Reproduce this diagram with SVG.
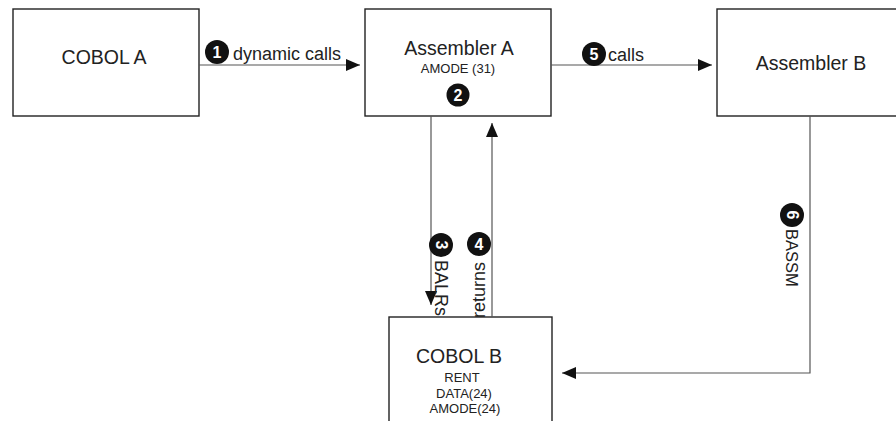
<svg xmlns="http://www.w3.org/2000/svg" width="896" height="421" viewBox="0 0 896 421">
<defs>
<marker id="arr" viewBox="0 0 14 12" refX="14" refY="6" markerWidth="14" markerHeight="12" markerUnits="userSpaceOnUse" orient="auto">
<path d="M0,0 L14,6 L0,12 Z" fill="#111"/>
</marker>
</defs>
<style>
.box{fill:#fff;stroke:#222;stroke-width:1.4}
.t{font-family:"Liberation Sans",Arial,sans-serif;fill:#222;text-anchor:middle}
.big{font-size:19.5px}
.sm{font-size:13px}
.lbl{font-family:"Liberation Sans",Arial,sans-serif;fill:#222;font-size:18px}
.ln{fill:none;stroke:#555;stroke-width:1.2}
.num{fill:#111}
.nt{font-family:"Liberation Sans",Arial,sans-serif;font-weight:bold;fill:#fff;font-size:16px;text-anchor:middle}
</style>
<rect width="896" height="421" fill="#fff"/>
<g id="cobolA">
<rect class="box" x="13" y="9" width="186" height="107"/>
<text class="t big" x="104" y="64">COBOL A</text>
</g>
<g id="asmA">
<rect class="box" x="365" y="9" width="186" height="107"/>
<text class="t big" x="459" y="55">Assembler A</text>
<text class="t sm" x="458" y="73">AMODE (31)</text>
<circle class="num" cx="458" cy="95" r="11.5"/>
<text class="nt" x="458" y="100.5">2</text>
</g>
<g id="asmB">
<rect class="box" x="717" y="9" width="190" height="107"/>
<text class="t big" x="811" y="70">Assembler B</text>
</g>
<g id="cobolB">
<rect class="box" x="389" y="317" width="163" height="120"/>
<text class="t big" x="459" y="363">COBOL B</text>
<text class="t sm" x="462" y="382">RENT</text>
<text class="t sm" x="464" y="398">DATA(24)</text>
<text class="t sm" x="465" y="413">AMODE(24)</text>
</g>
<g id="connectors">
<line class="ln" x1="199" y1="65" x2="360" y2="65" marker-end="url(#arr)"/>
<circle class="num" cx="217" cy="52" r="12"/>
<text class="nt" x="217" y="57.5">1</text>
<text class="lbl" x="233" y="60">dynamic calls</text>

<line class="ln" x1="551" y1="65" x2="712" y2="65" marker-end="url(#arr)"/>
<circle class="num" cx="594" cy="54" r="12"/>
<text class="nt" x="594" y="59.5">5</text>
<text class="lbl" x="608" y="61">calls</text>

<line class="ln" x1="431" y1="116" x2="431" y2="305" marker-end="url(#arr)"/>
<circle class="num" cx="441" cy="245" r="12"/>
<text class="nt" transform="translate(441,245) rotate(90)" x="0" y="5.5">3</text>
<text class="lbl" transform="translate(435,260) rotate(90)" x="0" y="0">BALRs</text>

<line class="ln" x1="492" y1="317" x2="492" y2="123" marker-end="url(#arr)"/>
<circle class="num" cx="479" cy="244" r="12"/>
<text class="nt" x="479" y="249.5">4</text>
<text class="lbl" transform="translate(485,318) rotate(-90)" x="0" y="0">returns</text>

<polyline class="ln" points="810,116 810,373 562,373" marker-end="url(#arr)"/>
<circle class="num" cx="792" cy="215" r="12"/>
<text class="nt" transform="translate(792,215) rotate(90)" x="0" y="5.5">6</text>
<text class="lbl" transform="translate(786,229) rotate(90)" x="0" y="0" style="font-size:16.5px">BASSM</text>
</g>
</svg>
